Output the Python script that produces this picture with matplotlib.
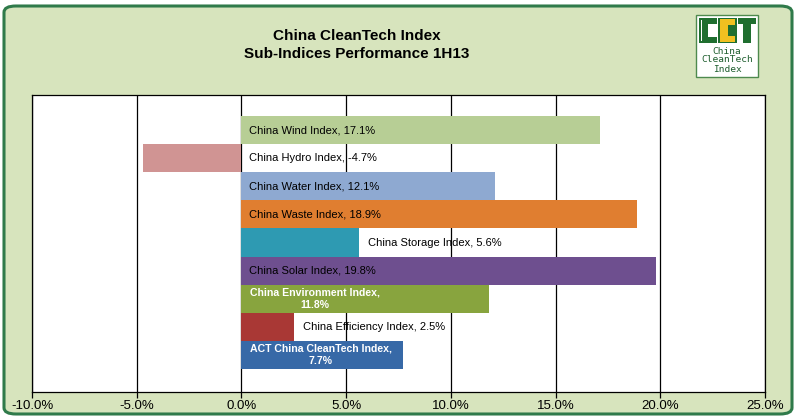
import matplotlib
matplotlib.use("Agg")
import matplotlib.pyplot as plt
from matplotlib.patches import FancyBboxPatch, Rectangle

names = ["China Wind Index", "China Hydro Index", "China Water Index", "China Waste Index",
         "China Storage Index", "China Solar Index", "China Environment Index",
         "China Efficiency Index", "ACT China CleanTech Index"]
values = [17.1, -4.7, 12.1, 18.9, 5.6, 19.8, 11.8, 2.5, 7.7]
colors = ["#B7CE95", "#D09493", "#8EA9D1", "#E07E30", "#2E9AB2", "#6E4F8F",
          "#88A43E", "#A93835", "#3769A7"]
xticks = [-10, -5, 0, 5, 10, 15, 20, 25]

plt.rcParams['font.family'] = ['Liberation Sans', 'DejaVu Sans']

fig = plt.figure(figsize=(7.96, 4.18), dpi=100)
fig.patch.set_facecolor("white")
W, H = 796, 418
bg = FancyBboxPatch((4 / W, 4 / H), 788 / W, 408 / H,
                    boxstyle="round,pad=0,rounding_size=0.015",
                    transform=fig.transFigure, facecolor="#D7E4BD",
                    edgecolor="#2F7A4A", linewidth=2.2, zorder=-10)
fig.patches.append(bg)

ax = fig.add_axes([32 / W, 1 - 392 / H, (765 - 32) / W, (392 - 95) / H])
ax.set_facecolor("white")
n = len(values)
ypos = list(range(n))
ax.barh(ypos, values, height=1.0, color=colors, zorder=2)
ax.set_ylim(n - 1 + 0.5 + 0.82, -0.5 - 0.75)
ax.set_xlim(-10, 25)
ax.set_xticks(xticks)
ax.set_xticklabels([f"{t:.1f}%" for t in xticks], fontsize=9.5)
ax.set_yticks([])
ax.grid(axis='x', color='black', linewidth=0.9, zorder=1)
for s in ax.spines.values():
    s.set_color('black')
    s.set_linewidth(0.9)
ax.tick_params(axis='x', length=4, width=0.9, direction='out', pad=2)

fs = 8
for i, (nm, v) in enumerate(zip(names, values)):
    if nm in ("China Environment Index", "ACT China CleanTech Index"):
        ax.text(0.4, i, f"{nm},\n{v:.1f}%", ha='left', va='center', multialignment='center',
                color='white', fontweight='bold', fontsize=7.6, linespacing=1.25, zorder=3)
    elif v < 0:
        ax.text(0.35, i, f"{nm}, {v:.1f}%", ha='left', va='center', color='black', fontsize=fs, zorder=3)
    elif v < 8:
        ax.text(v + 0.45, i, f"{nm}, {v:.1f}%", ha='left', va='center', color='black', fontsize=fs, zorder=3)
    else:
        ax.text(0.35, i, f"{nm}, {v:.1f}%", ha='left', va='center', color='black', fontsize=fs, zorder=3)

fig.text(357 / W, 1 - 45 / H, "China CleanTech Index\nSub-Indices Performance 1H13",
         ha='center', va='center', fontsize=11, fontweight='bold', linespacing=1.35)

# logo
G, Y = "#1F6E2F", "#F0C020"
def frect(x, y, w, h, c, z=6):
    fig.patches.append(Rectangle((x / W, 1 - (y + h) / H), w / W, h / H,
                                 transform=fig.transFigure, facecolor=c,
                                 edgecolor='none', zorder=z))
fig.patches.append(Rectangle((696 / W, 1 - 77 / H), 62 / W, 62 / H,
                             transform=fig.transFigure, facecolor='white',
                             edgecolor='#4E8A4E', linewidth=1.0, zorder=5))
# letter C (green)
frect(699, 18, 18, 25, G)
frect(708, 24, 9, 13, 'white', 7)
frect(700.5, 20, 1.2, 21, 'white', 7)
# letter C (yellow on green)
frect(718, 18, 19, 25, G)
frect(720, 19, 15, 23, Y, 7)
frect(728, 25, 7, 11, G, 8)
# letter T (green)
frect(738, 18, 18, 25, G)
frect(738, 24, 5, 19, 'white', 7)
frect(751, 24, 5, 19, 'white', 7)
fig.text(727 / W, 1 - 60 / H, "China\nCleanTech\nIndex", ha='center', va='center',
         fontsize=6.8, color='#1E5E2E', family='DejaVu Sans Mono', linespacing=1.0, zorder=9)

fig.savefig("out.png", dpi=100, facecolor=fig.get_facecolor())
